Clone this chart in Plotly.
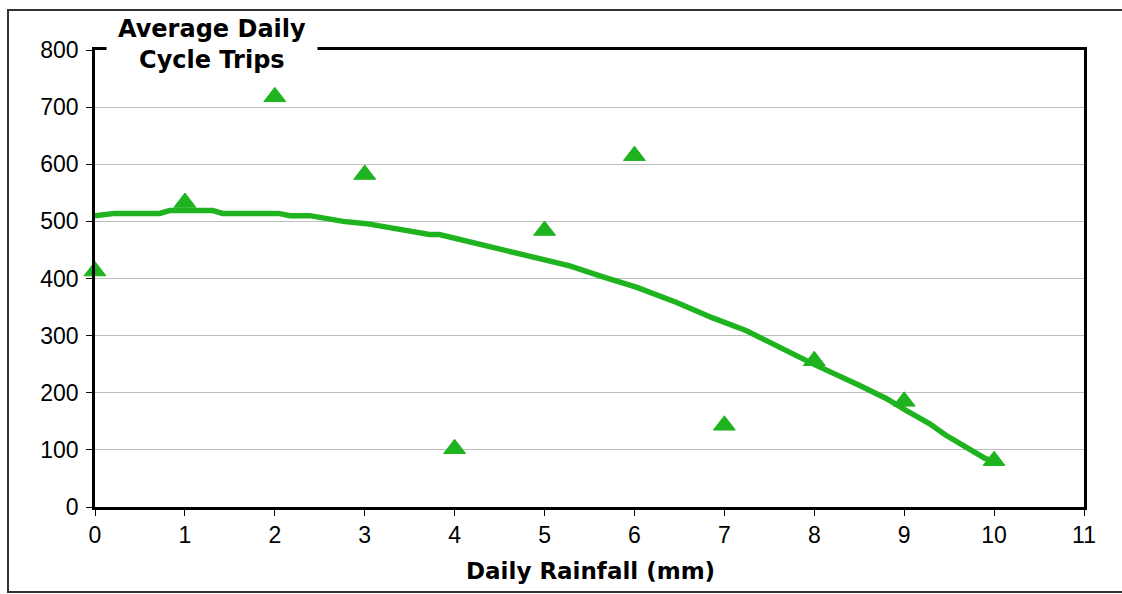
import plotly.graph_objects as go

# Observed data (Daily rainfall in mm vs average daily cycle trips)
rain_mm = [0, 1, 2, 3, 4, 5, 6, 7, 8, 9, 10]
cycle_trips = [413, 533, 718, 582, 102, 484, 615, 143, 256, 185, 81]

# Trend line
trend_x = [0, 0.22, 0.72, 0.83, 1.31, 1.42, 2.04, 2.17, 2.39, 2.54, 2.76, 3.02, 3.35,
           3.5, 3.72, 3.83, 4.39, 4.94, 5.28, 5.65, 6.02, 6.47, 6.87, 7.24, 7.98,
           8.5, 8.8, 9.02, 9.28, 9.46, 9.68, 9.9, 10.02]
trend_y = [510, 514, 514, 519, 519, 514, 514, 510, 510, 505, 500, 496, 487,
           485, 477, 477, 456, 434, 422, 403, 385, 358, 331, 309, 251,
           213, 190, 169, 146, 126, 105, 85, 79]

x_ticks = list(range(0, 12))
y_ticks = list(range(0, 900, 100))

GREEN = "#1FB41F"
W, H = 1122, 594
L, R, T, B = 95, 38, 50, 87
PW, PH = W - L - R, H - T - B

def px_x(p):
    return (p - L) / PW

def px_y(p):
    return (H - B - p) / PH

fig = go.Figure()
fig.add_trace(go.Scatter(x=trend_x, y=trend_y, mode="lines",
                         line=dict(color=GREEN, width=5.5), hoverinfo="skip",
                         showlegend=False, cliponaxis=False))
fig.add_trace(go.Scatter(x=rain_mm, y=cycle_trips, mode="markers",
                         marker=dict(symbol="triangle-up", size=19, color=GREEN,
                                     line=dict(color=GREEN, width=1)),
                         showlegend=False, cliponaxis=False))

fig.update_layout(
    width=W, height=H,
    margin=dict(l=L, r=R, t=T, b=B, pad=0),
    paper_bgcolor="white", plot_bgcolor="white",
    font=dict(family="Liberation Sans, Arial, sans-serif", size=23, color="black"),
    xaxis=dict(range=[0, 11], tickvals=x_ticks, ticktext=[str(v) for v in x_ticks],
               showgrid=False, zeroline=False, showline=True, linecolor="black",
               linewidth=2.5, mirror=True, ticks="outside", ticklen=6, tickwidth=1,
               tickcolor="black", tickfont=dict(size=23), ticklabelstandoff=0),
    yaxis=dict(range=[0, 800], tickvals=y_ticks, ticktext=[str(v) for v in y_ticks],
               showgrid=True, gridcolor="#BEBEBE", gridwidth=1, zeroline=False,
               showline=True, linecolor="black", linewidth=2.5, mirror=True,
               ticks="outside", ticklen=6, tickwidth=1, tickcolor="black",
               tickfont=dict(size=23), ticklabelstandoff=3),
    shapes=[dict(type="rect", xref="paper", yref="paper",
                 x0=px_x(8), x1=px_x(1135), y0=px_y(592), y1=px_y(10),
                 line=dict(color="#333333", width=2), fillcolor="rgba(0,0,0,0)",
                 layer="below")],
    annotations=[
        dict(text="<b>Average Daily<br>Cycle Trips</b>", xref="paper", yref="paper",
             x=px_x(212), y=px_y(45), xanchor="center", yanchor="middle",
             showarrow=False, bgcolor="white", width=206, borderpad=2,
             font=dict(family="DejaVu Sans", size=24, color="black")),
        dict(text="<b>Daily Rainfall (mm)</b>", xref="paper", yref="paper",
             x=px_x(590), y=px_y(571), xanchor="center", yanchor="middle",
             showarrow=False,
             font=dict(family="DejaVu Sans", size=23, color="black")),
    ],
)

fig.write_html("out.html")
